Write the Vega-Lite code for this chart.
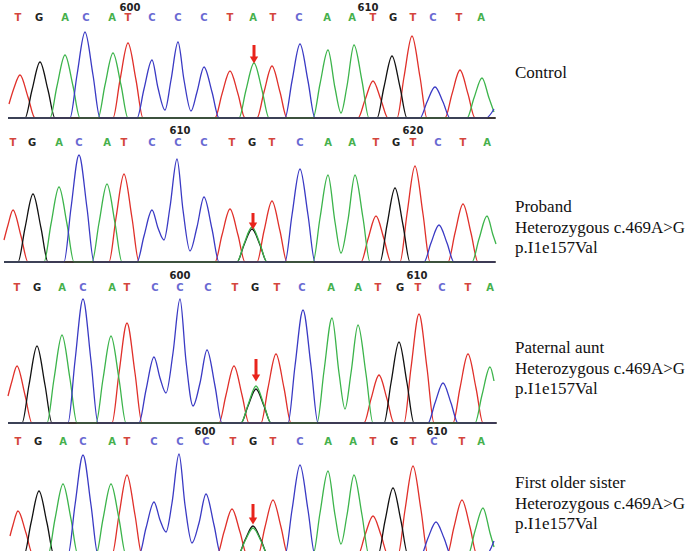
{
"$schema": "https://vega.github.io/schema/vega-lite/v6.json",
"padding": {"left": 0, "top": 0, "right": 0, "bottom": 5},
"autosize": {"type": "pad"},
"spacing": 0,
"background": "white",
"config": {"view": {"stroke": null}, "concat": {"spacing": 0}},
"datasets": {
"base": [{"p":1,"x":8,"x2":496},{"p":2,"x":4,"x2":496},{"p":3,"x":8,"x2":497},{"p":4,"x":8,"x2":496}],
"arr": [{"p":1,"x":254,"top":73,"tip":58},{"p":2,"x":253,"top":49,"tip":36},{"p":3,"x":256,"top":64,"tip":45},{"p":4,"x":253,"top":51,"tip":34}],
"lab": [{"p":1,"t":["Control"]},{"p":2,"t":["Proband","Heterozygous c.469A>G","p.I1e157Val"]},{"p":3,"t":["Paternal aunt","Heterozygous c.469A>G","p.I1e157Val"]},{"p":4,"t":["First older sister","Heterozygous c.469A>G","p.I1e157Val"]}],
"num": [{"p":1,"x":130,"n":"600"},{"p":1,"x":368,"n":"610"},{"p":2,"x":180,"n":"610"},{"p":2,"x":413,"n":"620"},{"p":3,"x":180,"n":"600"},{"p":3,"x":417,"n":"610"},{"p":4,"x":205,"n":"600"},{"p":4,"x":437,"n":"610"}],
"seq": [
{"p":1,"x":18,"l":"T"},{"p":1,"x":39,"l":"G"},{"p":1,"x":65,"l":"A"},{"p":1,"x":86,"l":"C"},{"p":1,"x":112,"l":"A"},{"p":1,"x":128,"l":"T"},{"p":1,"x":152,"l":"C"},{"p":1,"x":178,"l":"C"},{"p":1,"x":204,"l":"C"},{"p":1,"x":230,"l":"T"},{"p":1,"x":253,"l":"A"},{"p":1,"x":273,"l":"T"},{"p":1,"x":299,"l":"C"},{"p":1,"x":327,"l":"A"},{"p":1,"x":352,"l":"A"},{"p":1,"x":373,"l":"T"},{"p":1,"x":393,"l":"G"},{"p":1,"x":413,"l":"T"},{"p":1,"x":433,"l":"C"},{"p":1,"x":459,"l":"T"},{"p":1,"x":481,"l":"A"},
{"p":2,"x":13,"l":"T"},{"p":2,"x":32,"l":"G"},{"p":2,"x":59,"l":"A"},{"p":2,"x":79,"l":"C"},{"p":2,"x":107,"l":"A"},{"p":2,"x":124,"l":"T"},{"p":2,"x":152,"l":"C"},{"p":2,"x":178,"l":"C"},{"p":2,"x":204,"l":"C"},{"p":2,"x":232,"l":"T"},{"p":2,"x":252,"l":"G"},{"p":2,"x":272,"l":"T"},{"p":2,"x":300,"l":"C"},{"p":2,"x":328,"l":"A"},{"p":2,"x":352,"l":"A"},{"p":2,"x":376,"l":"T"},{"p":2,"x":396,"l":"G"},{"p":2,"x":413,"l":"T"},{"p":2,"x":438,"l":"C"},{"p":2,"x":463,"l":"T"},{"p":2,"x":487,"l":"A"},
{"p":3,"x":17,"l":"T"},{"p":3,"x":37,"l":"G"},{"p":3,"x":62,"l":"A"},{"p":3,"x":83,"l":"C"},{"p":3,"x":112,"l":"A"},{"p":3,"x":127,"l":"T"},{"p":3,"x":155,"l":"C"},{"p":3,"x":180,"l":"C"},{"p":3,"x":208,"l":"C"},{"p":3,"x":235,"l":"T"},{"p":3,"x":255,"l":"G"},{"p":3,"x":277,"l":"T"},{"p":3,"x":302,"l":"C"},{"p":3,"x":331,"l":"A"},{"p":3,"x":358,"l":"A"},{"p":3,"x":378,"l":"T"},{"p":3,"x":400,"l":"G"},{"p":3,"x":418,"l":"T"},{"p":3,"x":442,"l":"C"},{"p":3,"x":468,"l":"T"},{"p":3,"x":490,"l":"A"},
{"p":4,"x":18,"l":"T"},{"p":4,"x":38,"l":"G"},{"p":4,"x":63,"l":"A"},{"p":4,"x":83,"l":"C"},{"p":4,"x":112,"l":"A"},{"p":4,"x":127,"l":"T"},{"p":4,"x":154,"l":"C"},{"p":4,"x":180,"l":"C"},{"p":4,"x":206,"l":"C"},{"p":4,"x":233,"l":"T"},{"p":4,"x":253,"l":"G"},{"p":4,"x":273,"l":"T"},{"p":4,"x":300,"l":"C"},{"p":4,"x":328,"l":"A"},{"p":4,"x":353,"l":"A"},{"p":4,"x":373,"l":"T"},{"p":4,"x":394,"l":"G"},{"p":4,"x":413,"l":"T"},{"p":4,"x":434,"l":"C"},{"p":4,"x":462,"l":"T"},{"p":4,"x":481,"l":"A"}
],
"tr": [
{"p":1,"b":"T","x":9,"y":14},{"p":1,"b":"T","x":14,"y":30},{"p":1,"b":"T","x":20,"y":43},{"p":1,"b":"T","x":28,"y":21},{"p":1,"b":"T","x":35,"y":0},{"p":1,"b":"T","x":113,"y":0},{"p":1,"b":"T","x":120,"y":38},{"p":1,"b":"T","x":128,"y":75},{"p":1,"b":"T","x":136,"y":38},{"p":1,"b":"T","x":143,"y":0},{"p":1,"b":"T","x":215,"y":0},{"p":1,"b":"T","x":222,"y":24},{"p":1,"b":"T","x":230,"y":47},{"p":1,"b":"T","x":238,"y":24},{"p":1,"b":"T","x":245,"y":0},{"p":1,"b":"T","x":257,"y":0},{"p":1,"b":"T","x":264,"y":26},{"p":1,"b":"T","x":272,"y":52},{"p":1,"b":"T","x":280,"y":26},{"p":1,"b":"T","x":287,"y":0},{"p":1,"b":"T","x":358,"y":0},{"p":1,"b":"T","x":365,"y":18},{"p":1,"b":"T","x":373,"y":37},{"p":1,"b":"T","x":381,"y":18},{"p":1,"b":"T","x":388,"y":0},{"p":1,"b":"T","x":397,"y":0},{"p":1,"b":"T","x":404,"y":41},{"p":1,"b":"T","x":412,"y":82},{"p":1,"b":"T","x":420,"y":41},{"p":1,"b":"T","x":427,"y":0},{"p":1,"b":"T","x":445,"y":0},{"p":1,"b":"T","x":452,"y":24},{"p":1,"b":"T","x":460,"y":48},{"p":1,"b":"T","x":468,"y":24},{"p":1,"b":"T","x":475,"y":0},{"p":1,"b":"T","x":495,"y":0},
{"p":1,"b":"G","x":8,"y":0},{"p":1,"b":"G","x":25,"y":0},{"p":1,"b":"G","x":32,"y":28},{"p":1,"b":"G","x":40,"y":56},{"p":1,"b":"G","x":48,"y":28},{"p":1,"b":"G","x":55,"y":0},{"p":1,"b":"G","x":377,"y":0},{"p":1,"b":"G","x":384,"y":31},{"p":1,"b":"G","x":392,"y":62},{"p":1,"b":"G","x":400,"y":31},{"p":1,"b":"G","x":407,"y":0},{"p":1,"b":"G","x":495,"y":0},
{"p":1,"b":"A","x":8,"y":0},{"p":1,"b":"A","x":50,"y":0},{"p":1,"b":"A","x":57,"y":32},{"p":1,"b":"A","x":65,"y":63},{"p":1,"b":"A","x":73,"y":32},{"p":1,"b":"A","x":80,"y":0},{"p":1,"b":"A","x":98,"y":0},{"p":1,"b":"A","x":105,"y":33},{"p":1,"b":"A","x":113,"y":65},{"p":1,"b":"A","x":121,"y":33},{"p":1,"b":"A","x":128,"y":0},{"p":1,"b":"A","x":239,"y":0},{"p":1,"b":"A","x":246,"y":28},{"p":1,"b":"A","x":254,"y":55},{"p":1,"b":"A","x":262,"y":28},{"p":1,"b":"A","x":269,"y":0},{"p":1,"b":"A","x":313,"y":0},{"p":1,"b":"A","x":320,"y":34},{"p":1,"b":"A","x":328,"y":68},{"p":1,"b":"A","x":335,"y":30},{"p":1,"b":"A","x":341,"y":5},{"p":1,"b":"A","x":347,"y":32},{"p":1,"b":"A","x":354,"y":73},{"p":1,"b":"A","x":362,"y":37},{"p":1,"b":"A","x":369,"y":0},{"p":1,"b":"A","x":467,"y":0},{"p":1,"b":"A","x":474,"y":20},{"p":1,"b":"A","x":482,"y":40},{"p":1,"b":"A","x":489,"y":20},{"p":1,"b":"A","x":494,"y":6},
{"p":1,"b":"C","x":8,"y":0},{"p":1,"b":"C","x":70,"y":0},{"p":1,"b":"C","x":77,"y":43},{"p":1,"b":"C","x":85,"y":86},{"p":1,"b":"C","x":93,"y":43},{"p":1,"b":"C","x":100,"y":0},{"p":1,"b":"C","x":137,"y":0},{"p":1,"b":"C","x":144,"y":29},{"p":1,"b":"C","x":152,"y":58},{"p":1,"b":"C","x":158,"y":30},{"p":1,"b":"C","x":165,"y":8},{"p":1,"b":"C","x":171,"y":38},{"p":1,"b":"C","x":178,"y":76},{"p":1,"b":"C","x":184,"y":38},{"p":1,"b":"C","x":191,"y":7},{"p":1,"b":"C","x":197,"y":26},{"p":1,"b":"C","x":204,"y":51},{"p":1,"b":"C","x":212,"y":26},{"p":1,"b":"C","x":219,"y":0},{"p":1,"b":"C","x":285,"y":0},{"p":1,"b":"C","x":292,"y":37},{"p":1,"b":"C","x":300,"y":74},{"p":1,"b":"C","x":308,"y":37},{"p":1,"b":"C","x":315,"y":0},{"p":1,"b":"C","x":420,"y":0},{"p":1,"b":"C","x":427,"y":16},{"p":1,"b":"C","x":435,"y":31},{"p":1,"b":"C","x":443,"y":16},{"p":1,"b":"C","x":450,"y":0},{"p":1,"b":"C","x":486,"y":0},{"p":1,"b":"C","x":494,"y":9},

{"p":2,"b":"T","x":4,"y":22},{"p":2,"b":"T","x":8,"y":37},{"p":2,"b":"T","x":13,"y":52},{"p":2,"b":"T","x":21,"y":26},{"p":2,"b":"T","x":28,"y":0},{"p":2,"b":"T","x":109,"y":0},{"p":2,"b":"T","x":116,"y":44},{"p":2,"b":"T","x":124,"y":88},{"p":2,"b":"T","x":132,"y":44},{"p":2,"b":"T","x":139,"y":0},{"p":2,"b":"T","x":215,"y":0},{"p":2,"b":"T","x":222,"y":27},{"p":2,"b":"T","x":230,"y":53},{"p":2,"b":"T","x":238,"y":27},{"p":2,"b":"T","x":245,"y":0},{"p":2,"b":"T","x":257,"y":0},{"p":2,"b":"T","x":264,"y":31},{"p":2,"b":"T","x":272,"y":61},{"p":2,"b":"T","x":280,"y":31},{"p":2,"b":"T","x":287,"y":0},{"p":2,"b":"T","x":361,"y":0},{"p":2,"b":"T","x":368,"y":23},{"p":2,"b":"T","x":376,"y":46},{"p":2,"b":"T","x":384,"y":23},{"p":2,"b":"T","x":391,"y":0},{"p":2,"b":"T","x":400,"y":0},{"p":2,"b":"T","x":407,"y":48},{"p":2,"b":"T","x":415,"y":96},{"p":2,"b":"T","x":423,"y":48},{"p":2,"b":"T","x":430,"y":0},{"p":2,"b":"T","x":448,"y":0},{"p":2,"b":"T","x":455,"y":29},{"p":2,"b":"T","x":463,"y":58},{"p":2,"b":"T","x":471,"y":29},{"p":2,"b":"T","x":478,"y":0},{"p":2,"b":"T","x":495,"y":0},
{"p":2,"b":"G","x":4,"y":0},{"p":2,"b":"G","x":18,"y":0},{"p":2,"b":"G","x":25,"y":34},{"p":2,"b":"G","x":33,"y":68},{"p":2,"b":"G","x":41,"y":34},{"p":2,"b":"G","x":48,"y":0},{"p":2,"b":"G","x":237,"y":0},{"p":2,"b":"G","x":244,"y":17},{"p":2,"b":"G","x":252,"y":33},{"p":2,"b":"G","x":260,"y":17},{"p":2,"b":"G","x":267,"y":0},{"p":2,"b":"G","x":380,"y":0},{"p":2,"b":"G","x":387,"y":37},{"p":2,"b":"G","x":395,"y":74},{"p":2,"b":"G","x":403,"y":37},{"p":2,"b":"G","x":410,"y":0},{"p":2,"b":"G","x":495,"y":0},
{"p":2,"b":"A","x":4,"y":0},{"p":2,"b":"A","x":44,"y":0},{"p":2,"b":"A","x":51,"y":38},{"p":2,"b":"A","x":59,"y":75},{"p":2,"b":"A","x":67,"y":38},{"p":2,"b":"A","x":74,"y":0},{"p":2,"b":"A","x":92,"y":0},{"p":2,"b":"A","x":99,"y":39},{"p":2,"b":"A","x":107,"y":78},{"p":2,"b":"A","x":115,"y":39},{"p":2,"b":"A","x":122,"y":0},{"p":2,"b":"A","x":237,"y":0},{"p":2,"b":"A","x":244,"y":18},{"p":2,"b":"A","x":252,"y":35},{"p":2,"b":"A","x":260,"y":18},{"p":2,"b":"A","x":267,"y":0},{"p":2,"b":"A","x":313,"y":0},{"p":2,"b":"A","x":320,"y":44},{"p":2,"b":"A","x":328,"y":87},{"p":2,"b":"A","x":335,"y":40},{"p":2,"b":"A","x":341,"y":9},{"p":2,"b":"A","x":348,"y":42},{"p":2,"b":"A","x":355,"y":87},{"p":2,"b":"A","x":363,"y":44},{"p":2,"b":"A","x":370,"y":0},{"p":2,"b":"A","x":472,"y":0},{"p":2,"b":"A","x":479,"y":23},{"p":2,"b":"A","x":487,"y":46},{"p":2,"b":"A","x":493,"y":27},{"p":2,"b":"A","x":496,"y":18},
{"p":2,"b":"C","x":4,"y":0},{"p":2,"b":"C","x":64,"y":0},{"p":2,"b":"C","x":71,"y":54},{"p":2,"b":"C","x":79,"y":107},{"p":2,"b":"C","x":87,"y":54},{"p":2,"b":"C","x":94,"y":0},{"p":2,"b":"C","x":137,"y":0},{"p":2,"b":"C","x":144,"y":26},{"p":2,"b":"C","x":152,"y":52},{"p":2,"b":"C","x":158,"y":34},{"p":2,"b":"C","x":164,"y":22},{"p":2,"b":"C","x":170,"y":55},{"p":2,"b":"C","x":177,"y":103},{"p":2,"b":"C","x":183,"y":52},{"p":2,"b":"C","x":190,"y":11},{"p":2,"b":"C","x":197,"y":35},{"p":2,"b":"C","x":204,"y":65},{"p":2,"b":"C","x":212,"y":33},{"p":2,"b":"C","x":219,"y":0},{"p":2,"b":"C","x":285,"y":0},{"p":2,"b":"C","x":292,"y":47},{"p":2,"b":"C","x":300,"y":93},{"p":2,"b":"C","x":308,"y":47},{"p":2,"b":"C","x":315,"y":0},{"p":2,"b":"C","x":424,"y":0},{"p":2,"b":"C","x":431,"y":19},{"p":2,"b":"C","x":439,"y":37},{"p":2,"b":"C","x":447,"y":19},{"p":2,"b":"C","x":454,"y":0},{"p":2,"b":"C","x":495,"y":0},

{"p":3,"b":"T","x":8,"y":27},{"p":3,"b":"T","x":12,"y":42},{"p":3,"b":"T","x":17,"y":57},{"p":3,"b":"T","x":25,"y":28},{"p":3,"b":"T","x":32,"y":0},{"p":3,"b":"T","x":112,"y":0},{"p":3,"b":"T","x":119,"y":50},{"p":3,"b":"T","x":127,"y":100},{"p":3,"b":"T","x":135,"y":50},{"p":3,"b":"T","x":142,"y":0},{"p":3,"b":"T","x":219,"y":0},{"p":3,"b":"T","x":226,"y":28},{"p":3,"b":"T","x":234,"y":57},{"p":3,"b":"T","x":242,"y":28},{"p":3,"b":"T","x":249,"y":0},{"p":3,"b":"T","x":261,"y":0},{"p":3,"b":"T","x":268,"y":35},{"p":3,"b":"T","x":276,"y":69},{"p":3,"b":"T","x":284,"y":35},{"p":3,"b":"T","x":291,"y":0},{"p":3,"b":"T","x":364,"y":0},{"p":3,"b":"T","x":371,"y":24},{"p":3,"b":"T","x":379,"y":48},{"p":3,"b":"T","x":387,"y":24},{"p":3,"b":"T","x":394,"y":0},{"p":3,"b":"T","x":404,"y":0},{"p":3,"b":"T","x":411,"y":55},{"p":3,"b":"T","x":419,"y":109},{"p":3,"b":"T","x":427,"y":55},{"p":3,"b":"T","x":434,"y":0},{"p":3,"b":"T","x":453,"y":0},{"p":3,"b":"T","x":460,"y":35},{"p":3,"b":"T","x":468,"y":69},{"p":3,"b":"T","x":476,"y":35},{"p":3,"b":"T","x":483,"y":0},{"p":3,"b":"T","x":496,"y":0},
{"p":3,"b":"G","x":8,"y":0},{"p":3,"b":"G","x":22,"y":0},{"p":3,"b":"G","x":29,"y":38},{"p":3,"b":"G","x":37,"y":77},{"p":3,"b":"G","x":45,"y":38},{"p":3,"b":"G","x":52,"y":0},{"p":3,"b":"G","x":241,"y":0},{"p":3,"b":"G","x":248,"y":17},{"p":3,"b":"G","x":256,"y":34},{"p":3,"b":"G","x":264,"y":17},{"p":3,"b":"G","x":271,"y":0},{"p":3,"b":"G","x":384,"y":0},{"p":3,"b":"G","x":391,"y":40},{"p":3,"b":"G","x":399,"y":81},{"p":3,"b":"G","x":407,"y":40},{"p":3,"b":"G","x":414,"y":0},{"p":3,"b":"G","x":496,"y":0},
{"p":3,"b":"A","x":8,"y":0},{"p":3,"b":"A","x":47,"y":0},{"p":3,"b":"A","x":54,"y":44},{"p":3,"b":"A","x":62,"y":88},{"p":3,"b":"A","x":70,"y":44},{"p":3,"b":"A","x":77,"y":0},{"p":3,"b":"A","x":96,"y":0},{"p":3,"b":"A","x":103,"y":44},{"p":3,"b":"A","x":111,"y":87},{"p":3,"b":"A","x":119,"y":44},{"p":3,"b":"A","x":126,"y":0},{"p":3,"b":"A","x":241,"y":0},{"p":3,"b":"A","x":248,"y":18},{"p":3,"b":"A","x":256,"y":37},{"p":3,"b":"A","x":264,"y":18},{"p":3,"b":"A","x":271,"y":0},{"p":3,"b":"A","x":317,"y":0},{"p":3,"b":"A","x":324,"y":52},{"p":3,"b":"A","x":332,"y":105},{"p":3,"b":"A","x":339,"y":50},{"p":3,"b":"A","x":345,"y":14},{"p":3,"b":"A","x":351,"y":50},{"p":3,"b":"A","x":358,"y":98},{"p":3,"b":"A","x":366,"y":49},{"p":3,"b":"A","x":373,"y":0},{"p":3,"b":"A","x":475,"y":0},{"p":3,"b":"A","x":482,"y":28},{"p":3,"b":"A","x":490,"y":56},{"p":3,"b":"A","x":494,"y":42},
{"p":3,"b":"C","x":8,"y":0},{"p":3,"b":"C","x":68,"y":0},{"p":3,"b":"C","x":75,"y":62},{"p":3,"b":"C","x":83,"y":124},{"p":3,"b":"C","x":91,"y":62},{"p":3,"b":"C","x":98,"y":0},{"p":3,"b":"C","x":139,"y":0},{"p":3,"b":"C","x":146,"y":33},{"p":3,"b":"C","x":154,"y":66},{"p":3,"b":"C","x":160,"y":45},{"p":3,"b":"C","x":166,"y":30},{"p":3,"b":"C","x":173,"y":70},{"p":3,"b":"C","x":180,"y":124},{"p":3,"b":"C","x":186,"y":62},{"p":3,"b":"C","x":193,"y":17},{"p":3,"b":"C","x":200,"y":40},{"p":3,"b":"C","x":207,"y":73},{"p":3,"b":"C","x":215,"y":37},{"p":3,"b":"C","x":222,"y":0},{"p":3,"b":"C","x":288,"y":0},{"p":3,"b":"C","x":295,"y":57},{"p":3,"b":"C","x":303,"y":113},{"p":3,"b":"C","x":311,"y":57},{"p":3,"b":"C","x":318,"y":0},{"p":3,"b":"C","x":428,"y":0},{"p":3,"b":"C","x":435,"y":20},{"p":3,"b":"C","x":443,"y":40},{"p":3,"b":"C","x":451,"y":20},{"p":3,"b":"C","x":458,"y":0},{"p":3,"b":"C","x":496,"y":0},

{"p":4,"b":"T","x":10,"y":19},{"p":4,"b":"T","x":13,"y":30},{"p":4,"b":"T","x":18,"y":44},{"p":4,"b":"T","x":26,"y":22},{"p":4,"b":"T","x":33,"y":0},{"p":4,"b":"T","x":112,"y":0},{"p":4,"b":"T","x":119,"y":40},{"p":4,"b":"T","x":127,"y":80},{"p":4,"b":"T","x":135,"y":40},{"p":4,"b":"T","x":142,"y":0},{"p":4,"b":"T","x":217,"y":0},{"p":4,"b":"T","x":224,"y":23},{"p":4,"b":"T","x":232,"y":46},{"p":4,"b":"T","x":240,"y":23},{"p":4,"b":"T","x":247,"y":0},{"p":4,"b":"T","x":258,"y":0},{"p":4,"b":"T","x":265,"y":28},{"p":4,"b":"T","x":273,"y":55},{"p":4,"b":"T","x":281,"y":28},{"p":4,"b":"T","x":288,"y":0},{"p":4,"b":"T","x":358,"y":0},{"p":4,"b":"T","x":365,"y":20},{"p":4,"b":"T","x":373,"y":39},{"p":4,"b":"T","x":381,"y":20},{"p":4,"b":"T","x":388,"y":0},{"p":4,"b":"T","x":398,"y":0},{"p":4,"b":"T","x":405,"y":45},{"p":4,"b":"T","x":413,"y":89},{"p":4,"b":"T","x":421,"y":45},{"p":4,"b":"T","x":428,"y":0},{"p":4,"b":"T","x":447,"y":0},{"p":4,"b":"T","x":454,"y":28},{"p":4,"b":"T","x":462,"y":55},{"p":4,"b":"T","x":470,"y":28},{"p":4,"b":"T","x":477,"y":0},{"p":4,"b":"T","x":495,"y":0},
{"p":4,"b":"G","x":8,"y":0},{"p":4,"b":"G","x":24,"y":0},{"p":4,"b":"G","x":31,"y":32},{"p":4,"b":"G","x":39,"y":64},{"p":4,"b":"G","x":47,"y":32},{"p":4,"b":"G","x":54,"y":0},{"p":4,"b":"G","x":238,"y":0},{"p":4,"b":"G","x":245,"y":15},{"p":4,"b":"G","x":253,"y":29},{"p":4,"b":"G","x":261,"y":15},{"p":4,"b":"G","x":268,"y":0},{"p":4,"b":"G","x":378,"y":0},{"p":4,"b":"G","x":385,"y":34},{"p":4,"b":"G","x":393,"y":67},{"p":4,"b":"G","x":401,"y":34},{"p":4,"b":"G","x":408,"y":0},{"p":4,"b":"G","x":495,"y":0},
{"p":4,"b":"A","x":8,"y":0},{"p":4,"b":"A","x":48,"y":0},{"p":4,"b":"A","x":55,"y":36},{"p":4,"b":"A","x":63,"y":71},{"p":4,"b":"A","x":71,"y":36},{"p":4,"b":"A","x":78,"y":0},{"p":4,"b":"A","x":96,"y":0},{"p":4,"b":"A","x":103,"y":36},{"p":4,"b":"A","x":111,"y":71},{"p":4,"b":"A","x":119,"y":36},{"p":4,"b":"A","x":126,"y":0},{"p":4,"b":"A","x":238,"y":0},{"p":4,"b":"A","x":245,"y":14},{"p":4,"b":"A","x":253,"y":27},{"p":4,"b":"A","x":261,"y":14},{"p":4,"b":"A","x":268,"y":0},{"p":4,"b":"A","x":313,"y":0},{"p":4,"b":"A","x":320,"y":42},{"p":4,"b":"A","x":328,"y":84},{"p":4,"b":"A","x":335,"y":40},{"p":4,"b":"A","x":341,"y":11},{"p":4,"b":"A","x":347,"y":40},{"p":4,"b":"A","x":354,"y":80},{"p":4,"b":"A","x":362,"y":40},{"p":4,"b":"A","x":369,"y":0},{"p":4,"b":"A","x":468,"y":0},{"p":4,"b":"A","x":475,"y":24},{"p":4,"b":"A","x":483,"y":47},{"p":4,"b":"A","x":490,"y":22},{"p":4,"b":"A","x":494,"y":8},
{"p":4,"b":"C","x":8,"y":0},{"p":4,"b":"C","x":68,"y":0},{"p":4,"b":"C","x":75,"y":50},{"p":4,"b":"C","x":83,"y":100},{"p":4,"b":"C","x":91,"y":50},{"p":4,"b":"C","x":98,"y":0},{"p":4,"b":"C","x":139,"y":0},{"p":4,"b":"C","x":146,"y":27},{"p":4,"b":"C","x":154,"y":53},{"p":4,"b":"C","x":160,"y":35},{"p":4,"b":"C","x":166,"y":23},{"p":4,"b":"C","x":172,"y":52},{"p":4,"b":"C","x":179,"y":101},{"p":4,"b":"C","x":185,"y":50},{"p":4,"b":"C","x":192,"y":12},{"p":4,"b":"C","x":199,"y":32},{"p":4,"b":"C","x":206,"y":61},{"p":4,"b":"C","x":214,"y":30},{"p":4,"b":"C","x":221,"y":0},{"p":4,"b":"C","x":285,"y":0},{"p":4,"b":"C","x":292,"y":45},{"p":4,"b":"C","x":300,"y":90},{"p":4,"b":"C","x":308,"y":45},{"p":4,"b":"C","x":315,"y":0},{"p":4,"b":"C","x":421,"y":0},{"p":4,"b":"C","x":428,"y":17},{"p":4,"b":"C","x":436,"y":33},{"p":4,"b":"C","x":444,"y":17},{"p":4,"b":"C","x":451,"y":0},{"p":4,"b":"C","x":486,"y":0},{"p":4,"b":"C","x":494,"y":14}
]
},
"vconcat": [
{"width":690,"height":118,"resolve":{"scale":{"color":"independent"}},"layer":[
{"data":{"name":"tr"},"transform":[{"filter":"datum.p==1"}],"mark":{"type":"line","interpolate":"monotone","strokeWidth":1.3},"encoding":{"x":{"field":"x","type":"quantitative","scale":{"domain":[0,690],"nice":false,"zero":false},"axis":null},"y":{"field":"y","type":"quantitative","scale":{"domain":[0,118],"nice":false},"axis":null},"color":{"field":"b","type":"nominal","scale":{"domain":["T","G","A","C"],"range":["#e0302a","#111111","#3cb44b","#3a3ac4"]},"legend":null}}},
{"data":{"name":"base"},"transform":[{"filter":"datum.p==1"}],"mark":{"type":"rule","color":"#3c3c3c","strokeWidth":1.6},"encoding":{"x":{"field":"x","type":"quantitative"},"x2":{"field":"x2"},"y":{"datum":0,"type":"quantitative"}}},
{"data":{"name":"seq"},"transform":[{"filter":"datum.p==1"}],"mark":{"type":"text","font":"DejaVu Sans","fontWeight":"bold","fontSize":10},"encoding":{"x":{"field":"x","type":"quantitative"},"y":{"datum":100,"type":"quantitative"},"text":{"field":"l"},"color":{"field":"l","type":"nominal","scale":{"domain":["T","G","A","C"],"range":["#d4463c","#222222","#46b04c","#6a6ad2"]},"legend":null}}},
{"data":{"name":"num"},"transform":[{"filter":"datum.p==1"}],"mark":{"type":"text","font":"DejaVu Sans","fontWeight":"bold","fontSize":10,"color":"#222"},"encoding":{"x":{"field":"x","type":"quantitative"},"y":{"datum":110,"type":"quantitative"},"text":{"field":"n"}}},
{"data":{"name":"arr"},"transform":[{"filter":"datum.p==1"}],"mark":{"type":"rule","color":"#e8241c","strokeWidth":3},"encoding":{"x":{"field":"x","type":"quantitative"},"y":{"field":"top","type":"quantitative"},"y2":{"field":"tip"}}},
{"data":{"name":"arr"},"transform":[{"filter":"datum.p==1"}],"mark":{"type":"point","shape":"triangle-down","filled":true,"size":70,"color":"#e8241c","opacity":1},"encoding":{"x":{"field":"x","type":"quantitative"},"y":{"field":"tip","type":"quantitative"}}},
{"data":{"name":"lab"},"transform":[{"filter":"datum.p==1"}],"mark":{"type":"text","font":"Liberation Serif","fontSize":17,"align":"left","baseline":"middle","lineHeight":20.5,"color":"#111"},"encoding":{"x":{"datum":515,"type":"quantitative"},"y":{"datum":45,"type":"quantitative"},"text":{"field":"t"}}}
]},
{"width":690,"height":141,"resolve":{"scale":{"color":"independent"}},"layer":[
{"data":{"name":"tr"},"transform":[{"filter":"datum.p==2"}],"mark":{"type":"line","interpolate":"monotone","strokeWidth":1.3},"encoding":{"x":{"field":"x","type":"quantitative","scale":{"domain":[0,690],"nice":false,"zero":false},"axis":null},"y":{"field":"y","type":"quantitative","scale":{"domain":[0,141],"nice":false},"axis":null},"color":{"field":"b","type":"nominal","scale":{"domain":["T","G","A","C"],"range":["#e0302a","#111111","#3cb44b","#3a3ac4"]},"legend":null}}},
{"data":{"name":"base"},"transform":[{"filter":"datum.p==2"}],"mark":{"type":"rule","color":"#3c3c3c","strokeWidth":1.6},"encoding":{"x":{"field":"x","type":"quantitative"},"x2":{"field":"x2"},"y":{"datum":0,"type":"quantitative"}}},
{"data":{"name":"seq"},"transform":[{"filter":"datum.p==2"}],"mark":{"type":"text","font":"DejaVu Sans","fontWeight":"bold","fontSize":10},"encoding":{"x":{"field":"x","type":"quantitative"},"y":{"datum":119,"type":"quantitative"},"text":{"field":"l"},"color":{"field":"l","type":"nominal","scale":{"domain":["T","G","A","C"],"range":["#d4463c","#222222","#46b04c","#6a6ad2"]},"legend":null}}},
{"data":{"name":"num"},"transform":[{"filter":"datum.p==2"}],"mark":{"type":"text","font":"DejaVu Sans","fontWeight":"bold","fontSize":10,"color":"#222"},"encoding":{"x":{"field":"x","type":"quantitative"},"y":{"datum":131,"type":"quantitative"},"text":{"field":"n"}}},
{"data":{"name":"arr"},"transform":[{"filter":"datum.p==2"}],"mark":{"type":"rule","color":"#e8241c","strokeWidth":3},"encoding":{"x":{"field":"x","type":"quantitative"},"y":{"field":"top","type":"quantitative"},"y2":{"field":"tip"}}},
{"data":{"name":"arr"},"transform":[{"filter":"datum.p==2"}],"mark":{"type":"point","shape":"triangle-down","filled":true,"size":70,"color":"#e8241c","opacity":1},"encoding":{"x":{"field":"x","type":"quantitative"},"y":{"field":"tip","type":"quantitative"}}},
{"data":{"name":"lab"},"transform":[{"filter":"datum.p==2"}],"mark":{"type":"text","font":"Liberation Serif","fontSize":17,"align":"left","baseline":"middle","lineHeight":20.5,"color":"#111"},"encoding":{"x":{"datum":515,"type":"quantitative"},"y":{"datum":55,"type":"quantitative"},"text":{"field":"t"}}}
]},
{"width":690,"height":158,"resolve":{"scale":{"color":"independent"}},"layer":[
{"data":{"name":"tr"},"transform":[{"filter":"datum.p==3"}],"mark":{"type":"line","interpolate":"monotone","strokeWidth":1.3},"encoding":{"x":{"field":"x","type":"quantitative","scale":{"domain":[0,690],"nice":false,"zero":false},"axis":null},"y":{"field":"y","type":"quantitative","scale":{"domain":[0,158],"nice":false},"axis":null},"color":{"field":"b","type":"nominal","scale":{"domain":["T","G","A","C"],"range":["#e0302a","#111111","#3cb44b","#3a3ac4"]},"legend":null}}},
{"data":{"name":"base"},"transform":[{"filter":"datum.p==3"}],"mark":{"type":"rule","color":"#3c3c3c","strokeWidth":1.6},"encoding":{"x":{"field":"x","type":"quantitative"},"x2":{"field":"x2"},"y":{"datum":0,"type":"quantitative"}}},
{"data":{"name":"seq"},"transform":[{"filter":"datum.p==3"}],"mark":{"type":"text","font":"DejaVu Sans","fontWeight":"bold","fontSize":10},"encoding":{"x":{"field":"x","type":"quantitative"},"y":{"datum":135,"type":"quantitative"},"text":{"field":"l"},"color":{"field":"l","type":"nominal","scale":{"domain":["T","G","A","C"],"range":["#d4463c","#222222","#46b04c","#6a6ad2"]},"legend":null}}},
{"data":{"name":"num"},"transform":[{"filter":"datum.p==3"}],"mark":{"type":"text","font":"DejaVu Sans","fontWeight":"bold","fontSize":10,"color":"#222"},"encoding":{"x":{"field":"x","type":"quantitative"},"y":{"datum":147,"type":"quantitative"},"text":{"field":"n"}}},
{"data":{"name":"arr"},"transform":[{"filter":"datum.p==3"}],"mark":{"type":"rule","color":"#e8241c","strokeWidth":3},"encoding":{"x":{"field":"x","type":"quantitative"},"y":{"field":"top","type":"quantitative"},"y2":{"field":"tip"}}},
{"data":{"name":"arr"},"transform":[{"filter":"datum.p==3"}],"mark":{"type":"point","shape":"triangle-down","filled":true,"size":70,"color":"#e8241c","opacity":1},"encoding":{"x":{"field":"x","type":"quantitative"},"y":{"field":"tip","type":"quantitative"}}},
{"data":{"name":"lab"},"transform":[{"filter":"datum.p==3"}],"mark":{"type":"text","font":"Liberation Serif","fontSize":17,"align":"left","baseline":"middle","lineHeight":20.5,"color":"#111"},"encoding":{"x":{"datum":515,"type":"quantitative"},"y":{"datum":75,"type":"quantitative"},"text":{"field":"t"}}}
]},
{"width":690,"height":129,"resolve":{"scale":{"color":"independent"}},"layer":[
{"data":{"name":"tr"},"transform":[{"filter":"datum.p==4"}],"mark":{"type":"line","interpolate":"monotone","strokeWidth":1.3},"encoding":{"x":{"field":"x","type":"quantitative","scale":{"domain":[0,690],"nice":false,"zero":false},"axis":null},"y":{"field":"y","type":"quantitative","scale":{"domain":[0,129],"nice":false},"axis":null},"color":{"field":"b","type":"nominal","scale":{"domain":["T","G","A","C"],"range":["#e0302a","#111111","#3cb44b","#3a3ac4"]},"legend":null}}},
{"data":{"name":"base"},"transform":[{"filter":"datum.p==4"}],"mark":{"type":"rule","color":"#3c3c3c","strokeWidth":1.6},"encoding":{"x":{"field":"x","type":"quantitative"},"x2":{"field":"x2"},"y":{"datum":0,"type":"quantitative"}}},
{"data":{"name":"seq"},"transform":[{"filter":"datum.p==4"}],"mark":{"type":"text","font":"DejaVu Sans","fontWeight":"bold","fontSize":10},"encoding":{"x":{"field":"x","type":"quantitative"},"y":{"datum":113,"type":"quantitative"},"text":{"field":"l"},"color":{"field":"l","type":"nominal","scale":{"domain":["T","G","A","C"],"range":["#d4463c","#222222","#46b04c","#6a6ad2"]},"legend":null}}},
{"data":{"name":"num"},"transform":[{"filter":"datum.p==4"}],"mark":{"type":"text","font":"DejaVu Sans","fontWeight":"bold","fontSize":10,"color":"#222"},"encoding":{"x":{"field":"x","type":"quantitative"},"y":{"datum":123,"type":"quantitative"},"text":{"field":"n"}}},
{"data":{"name":"arr"},"transform":[{"filter":"datum.p==4"}],"mark":{"type":"rule","color":"#e8241c","strokeWidth":3},"encoding":{"x":{"field":"x","type":"quantitative"},"y":{"field":"top","type":"quantitative"},"y2":{"field":"tip"}}},
{"data":{"name":"arr"},"transform":[{"filter":"datum.p==4"}],"mark":{"type":"point","shape":"triangle-down","filled":true,"size":70,"color":"#e8241c","opacity":1},"encoding":{"x":{"field":"x","type":"quantitative"},"y":{"field":"tip","type":"quantitative"}}},
{"data":{"name":"lab"},"transform":[{"filter":"datum.p==4"}],"mark":{"type":"text","font":"Liberation Serif","fontSize":17,"align":"left","baseline":"middle","lineHeight":20.5,"color":"#111"},"encoding":{"x":{"datum":515,"type":"quantitative"},"y":{"datum":72,"type":"quantitative"},"text":{"field":"t"}}}
]}
]
}
